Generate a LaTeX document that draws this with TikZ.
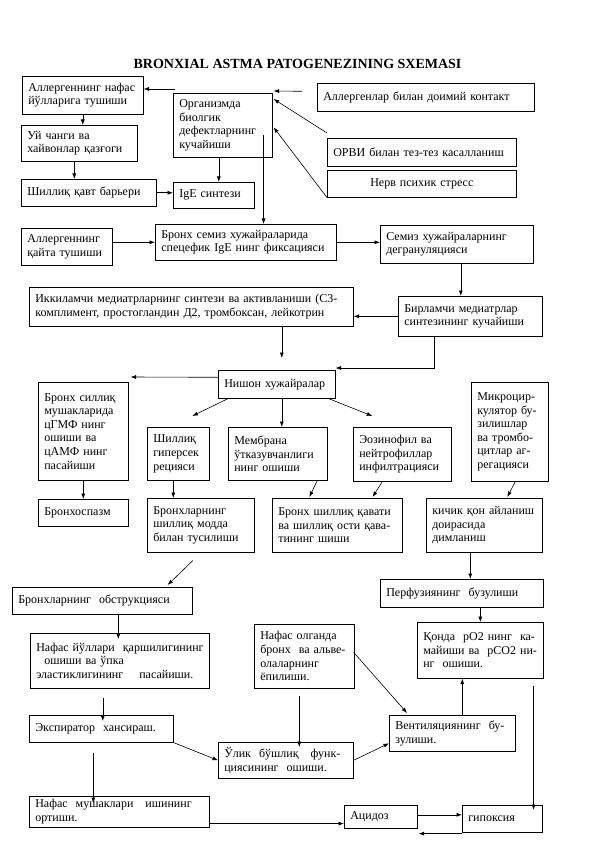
\documentclass[tikz,border=0pt]{standalone}
\usepackage{fontspec}
\setmainfont{Liberation Serif}
\usetikzlibrary{arrows.meta,calc}
\newcommand\myfont{\fontsize{12}{13.6}\selectfont}
\begin{document}
\begin{tikzpicture}[x=1pt,y=-1pt,
  bx/.style={draw, line width=0.6pt, anchor=north west, align=left, inner xsep=6pt, inner ysep=1pt, font=\myfont},
  arr/.style={-{Latex[length=5.5pt,width=4pt]}, line width=0.6pt}]
\useasboundingbox[fill=white] (0,0) rectangle (596,842);

\node[font=\bfseries\fontsize{14}{16}\selectfont, anchor=base] (title) at (297.5,69) {BRONXIAL ASTMA PATOGENEZINING SXEMASI};

\node[bx,minimum width=121pt,minimum height=38pt,text width=109pt] (A) at (22,76) {Аллергеннинг нафас\\йўлларига тушиши};
\node[bx,minimum width=116pt,minimum height=36pt,text width=104pt] (uy) at (21,125) {Уй чанги ва\\хайвонлар қазғоги};
\node[bx,minimum width=135pt,minimum height=27pt,text width=123pt] (bar) at (21,179) {Шиллиқ қавт барьери};
\node[bx,minimum width=99pt,minimum height=64pt,text width=87pt] (O) at (173,93) {Организмда\\биолгик\\дефектларнинг\\кучайиши};
\node[bx,minimum width=81pt,minimum height=26pt,text width=69pt] (ige) at (173,182) {IgE синтези};
\node[bx,minimum width=217pt,minimum height=28pt,text width=205pt] (cont) at (317,83) {Аллергенлар билан доимий контакт};
\node[bx,minimum width=189pt,minimum height=28pt,text width=177pt] (orvi) at (327,138) {ОРВИ билан тез-тез касалланиш};
\node[bx,minimum width=189pt,minimum height=27pt,text width=177pt,align=center] (nerv) at (327,170) {Нерв психик стресс};
\node[bx,minimum width=91pt,minimum height=37pt,text width=79pt] (qay) at (21,228) {Аллергеннинг\\қайта тушиши};
\node[bx,minimum width=181pt,minimum height=36pt,text width=169pt] (bsem) at (155,224) {Бронх семиз хужайраларида\\спецефик IgE нинг фиксацияси};
\node[bx,minimum width=153pt,minimum height=38pt,text width=141pt] (sem) at (380,225) {Семиз хужайраларнинг\\дегрануляцияси};
\node[bx,minimum width=144pt,minimum height=40pt,text width=132pt] (birl) at (398,296) {Бирламчи медиатрлар\\синтезининг кучайиши};
\node[bx,minimum width=324pt,minimum height=39pt,text width=312pt] (ikki) at (29,287) {Иккиламчи медиатрларнинг синтези ва активланиши (С3-\\комплимент, простогландин Д2, тромбоксан, лейкотрин};
\node[bx,minimum width=117pt,minimum height=28pt,text width=105pt] (nish) at (218,370) {Нишон хужайралар};
\node[bx,minimum width=90pt,minimum height=98pt,text width=78pt] (sil) at (38,382) {Бронх силлиқ\\мушакларида\\цГМФ нинг\\ошиши ва\\цАМФ нинг\\пасайиши};
\node[bx,minimum width=90pt,minimum height=27pt,text width=78pt] (spazm) at (38,499) {Бронхоспазм};
\node[bx,minimum width=62pt,minimum height=53pt,text width=50pt] (giper) at (147,427) {Шиллиқ\\гиперсек\\рецияси};
\node[bx,minimum width=99pt,minimum height=53pt,text width=87pt] (mem) at (228,427) {Мембрана\\ўтказувчанлиги\\нинг ошиши};
\node[bx,minimum width=98pt,minimum height=54pt,text width=86pt] (eoz) at (353,427) {Эозинофил ва\\нейтрофиллар\\инфилтрацияси};
\node[bx,minimum width=77pt,minimum height=99pt,text width=65pt] (mik) at (471,382) {Микроцир-\\кулятор бу-\\зилишлар\\ва тромбо-\\цитлар аг-\\регацияси};
\node[bx,minimum width=107pt,minimum height=54pt,text width=95pt] (bsh) at (147,498) {Бронхларнинг\\шиллиқ модда\\билан тусилиши};
\node[bx,minimum width=130pt,minimum height=54pt,text width=118pt] (bqav) at (272,498) {Бронх шиллиқ қавати\\ва шиллиқ ости қава-\\тининг шиши};
\node[bx,minimum width=116pt,minimum height=54pt,text width=104pt] (kich) at (426,498) {кичик қон айланиш\\доирасида\\димланиш};
\node[bx,minimum width=180pt,minimum height=27pt,text width=168pt] (obs) at (12,587) {Бронхларнинг\ \ обструкцияси};
\node[bx,minimum width=179pt,minimum height=55pt,text width=167pt] (nyul) at (30,633) {\mbox{Нафас йўллари\ \ қаршилигининг}\\\mbox{\ \ ошиши ва ўпка}\\\mbox{эластиклигининг\ \ \ \ пасайиши.}};
\node[bx,minimum width=100pt,minimum height=64pt,text width=88pt] (nolg) at (254,624) {Нафас олганда\\бронх\ \ ва альве-\\олаларнинг\\ёпилиши.};
\node[bx,minimum width=163pt,minimum height=28pt,text width=151pt] (perf) at (380,579) {Перфузиянинг\ \ бузулиши};
\node[bx,minimum width=126pt,minimum height=56pt,text width=114pt] (qon) at (417,622) {\mbox{Қонда\ \ рО2 нинг\ \ ка-}\\\mbox{майиши ва\ \ рСО2 ни-}\\\mbox{нг\ \ ошиши.}};
\node[bx,minimum width=144pt,minimum height=27pt,text width=132pt] (eks) at (29,715) {Экспиратор\ \ хансираш.};
\node[bx,minimum width=135pt,minimum height=36pt,text width=123pt] (olik) at (218,742) {\mbox{Ўлик\ \ бўшлиқ\ \ \ функ-}\\\mbox{циясининг\ \ ошиши.}};
\node[bx,minimum width=126pt,minimum height=36pt,text width=114pt] (vent) at (389,715) {\mbox{Вентиляциянинг\ \ бу-}\\зулиши.};
\node[bx,minimum width=180pt,minimum height=31pt,text width=168pt] (mush) at (29,796) {\mbox{Нафас\ \ мушаклари\ \ \ ишининг}\\ортиши.};
\node[bx,minimum width=73pt,minimum height=23pt,text width=61pt] (acid) at (344,805) {Ацидоз};
\node[bx,minimum width=80pt,minimum height=27pt,text width=68pt] (gip) at (462,805) {гипоксия};

% connectors, top part
\coordinate (c1) at ($(O.north west)+(2,-4)$);
\draw[arr] (c1) -- (c1 -| A.east);
\draw[arr] ($(cont.west)+(-15,-6)$) -- ($(O.north east)+(1,-2)$);
\draw[arr] ($(orvi.north west)+(0,-5)$) -- ($(O.north east)+(1,6)$);
\draw[arr] (nerv.south west) -- ($(O.east)+(1,2)$);
\coordinate (c2) at ($(O.north east)+(-9,42)$);
\draw[arr] (c2) -- (c2 |- bsem.north);
\coordinate (c3) at ($(O.south)+(-4,0)$);
\draw[arr] (c3) -- (c3 |- ige.north);
\draw[arr] (A.south) -- (A.south |- uy.north);
\coordinate (c4) at ($(uy.south)+(-5,0)$);
\draw[arr] (c4) -- (c4 |- bar.north);
\draw[arr] (bar.east) -- (bar.east -| ige.west);
\draw[arr] (bsem.west -| qay.east) -- (bsem.west);
\draw[arr] (bsem.east) -- (bsem.east -| sem.west);
\coordinate (c5) at ($(sem.south)+(4,0)$);
\draw[arr] (c5) -- (c5 |- birl.north);
\draw[arr] (birl.west) -- (birl.west -| ikki.east);
\coordinate (c6) at ($(nish.north)+(5,-12)$);
\draw[arr] (c6 |- ikki.south) -- (c6);
\draw[arr] ($(birl.south)+(-36,0)$) |- ($(nish.north east)+(0,-2)$);

% middle part
\draw[arr] ($(nish.west)+(0,-7)$) -- ($(sil.north east)+(2,-5)$);
\draw[arr] ($(nish.south west)+(10,0)$) -- ($(giper.north)+(14,-11)$);
\draw[arr] (c6 |- nish.south) -- (c6 |- mem.north);
\draw[arr] ($(nish.south east)+(-7,0)$) -- ($(eoz.north)+(-30,-11)$);
\draw[arr] (sil.south) -- (sil.south |- spazm.north);
\coordinate (c7) at ($(giper.south)+(-5,0)$);
\draw[arr] (c7) -- (c7 |- bsh.north);
\draw[arr] ($(mem.south)+(39.5,0)$) -- ($(bqav.north)+(-28,-1)$);
\draw[arr] ($(eoz.south)+(-20,0)$) -- ($(bqav.north east)+(-30,-1)$);
\draw[arr] ($(mik.south)+(5.5,0)$) -- ($(kich.north)+(23,-1)$);

% lower part
\draw[arr] ($(bsh.south)+(-8,8)$) -- ($(obs.north east)+(-25,-2)$);
\coordinate (c8) at ($(obs.south)+(16,0)$);
\draw[arr] (c8) -- ($(c8 |- nyul.north)+(0,6)$);
\coordinate (c9) at ($(nyul.south)+(-17,9)$);
\draw[arr] (c9) -- ($(c9 |- eks.north)+(0,6)$);
\coordinate (c10) at ($(eks.south)+(-8,10)$);
\draw[arr] (c10) -- ($(c10 |- mush.north)+(0,7)$);
\draw[arr] (eks.south east) -- (olik.west);
\coordinate (c11) at ($(nolg.south)+(-5,7)$);
\draw[arr] (c11) -- ($(c11 |- olik.north)+(0,5)$);
\draw[arr] ($(nolg.east)+(-1,-4)$) -- ($(vent.north west)+(18,-2)$);
\draw[arr] (olik.east) -- ($(vent.west)+(0,10)$);
\coordinate (c12) at ($(vent.north)+(10,0)$);
\draw[arr] (c12) -- (c12 |- qon.south);
\draw[arr] (qon.north |- perf.south) -- (qon.north);
\coordinate (c13) at ($(kich.south)+(-14,0)$);
\draw[arr] (c13) -- (c13 |- perf.north);
\coordinate (c14) at ($(qon.south east)+(-10,7)$);
\draw[arr] (c14) -- ($(c14 |- gip.north)+(0,5)$);
\coordinate (c15) at ($(mush.south east)+(0,-4)$);
\draw[arr] (c15) -- (c15 -| acid.west);
\coordinate (c16) at ($(acid.east)+(0,-2)$);
\draw[arr] (c16) -- (c16 -| gip.west);
\coordinate (c17) at ($(gip.south west)+(0,1)$);
\draw[arr] (c17) -- ($(c17 -| acid.east)+(1,0)$);
\end{tikzpicture}
\end{document}
